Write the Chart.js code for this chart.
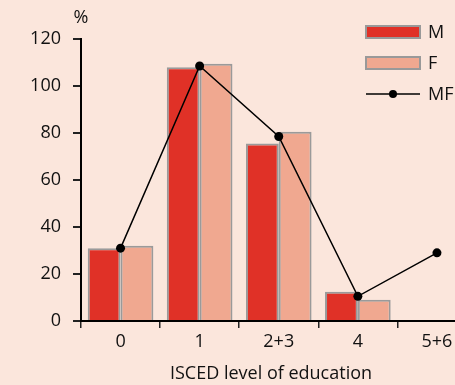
<!DOCTYPE html>
<html>
<head>
<meta charset="utf-8">
<script src="https://cdn.jsdelivr.net/npm/chart.js@4"></script>
<style>
  html, body { margin: 0; padding: 0; background: #fbe6dc; overflow: hidden; }
  #wrap { width: 481px; height: 385px; }
</style>
</head>
<body>
<div id="wrap"><canvas id="chart"></canvas></div>
<script>
// ISCED levels
var levels = ["0", "1", "2+3", "4", "5+6"];
var maleValues = [31, 108, 75.5, 12.5, null];
var femaleValues = [32, 109.5, 80.5, 9, null];
var mfValues = [31, 108.5, 78.5, 10.5, 29];
var yTicks = [0, 20, 40, 60, 80, 100, 120];

var FONT = "'Open Sans', sans-serif";

// legend, % sign and axis title, drawn by hand so they sit where the original has them
var extras = {
    id: 'extras',
    afterDraw: function (chart) {
        var ctx = chart.ctx;
        ctx.save();
        ctx.font = "18px " + FONT;
        ctx.fillStyle = "#111";
        ctx.textBaseline = "middle";
        ctx.textAlign = "center";
        ctx.fillText("%", chart.chartArea.left, 18);
        ctx.fillText("ISCED level of education", 271, 374);

        var ds = chart.data.datasets;
        var x0 = 366, w = 54;
        [[ds[0], 32], [ds[1], 63]].forEach(function (d) {
            ctx.fillStyle = d[0].backgroundColor;
            ctx.strokeStyle = "#999";
            ctx.lineWidth = 2;
            ctx.fillRect(x0, d[1] - 6, w, 12);
            ctx.strokeRect(x0, d[1] - 6, w, 12);
            ctx.fillStyle = "#111";
            ctx.textAlign = "left";
            ctx.fillText(d[0].label, 428, d[1] + 1);
        });
        ctx.strokeStyle = "#000";
        ctx.lineWidth = 1.5;
        ctx.beginPath();
        ctx.moveTo(x0, 94);
        ctx.lineTo(x0 + w, 94);
        ctx.stroke();
        ctx.beginPath();
        ctx.arc(x0 + w / 2, 94, 4, 0, Math.PI * 2);
        ctx.fillStyle = "#000";
        ctx.fill();
        ctx.fillStyle = "#111";
        ctx.fillText(ds[2].label, 428, 95);
        ctx.restore();
    }
};

new Chart(document.getElementById("chart"), {
    type: 'bar',
    data: {
        labels: levels,
        datasets: [{
            label: "M",
            data: maleValues,
            backgroundColor: "#e03127",
            borderColor: "#9a9a9a",
            borderWidth: 2,
            order: 2
        }, {
            label: "F",
            data: femaleValues,
            backgroundColor: "#f0a890",
            borderColor: "#9a9a9a",
            borderWidth: 2,
            order: 2
        }, {
            type: 'line',
            label: "MF",
            data: mfValues,
            borderColor: "#000",
            borderWidth: 1.5,
            backgroundColor: "#000",
            pointRadius: 4.5,
            pointBackgroundColor: "#000",
            pointBorderWidth: 0,
            order: 1
        }]
    },
    options: {
        responsive: true,
        maintainAspectRatio: false,
        animation: false,
        events: [],
        layout: { padding: { top: 39, right: 0, left: 0, bottom: 0 } },
        datasets: {
            bar: { categoryPercentage: 0.83, barPercentage: 1 }
        },
        plugins: {
            legend: { display: false },
            tooltip: { enabled: false }
        },
        scales: {
            x: {
                offset: true,
                afterFit: function (s) { s.height = 64; },
                grid: {
                    offset: true,
                    drawOnChartArea: false,
                    drawTicks: true,
                    tickLength: 7,
                    color: "#222",
                    lineWidth: 1.5
                },
                border: { color: "#000", width: 2 },
                ticks: {
                    font: { family: FONT, size: 18 },
                    color: "#111",
                    padding: 3
                }
            },
            y: {
                min: 0,
                max: 120,
                afterFit: function (s) { s.width = 81; },
                afterBuildTicks: function (s) {
                    s.ticks = yTicks.map(function (v) { return { value: v }; });
                },
                grid: {
                    drawOnChartArea: false,
                    drawTicks: true,
                    tickLength: 8,
                    color: "#222",
                    lineWidth: 2
                },
                border: { color: "#000", width: 2 },
                ticks: {
                    font: { family: FONT, size: 18 },
                    color: "#111",
                    padding: 12
                }
            }
        }
    },
    plugins: [extras]
});
</script>
</body>
</html>
